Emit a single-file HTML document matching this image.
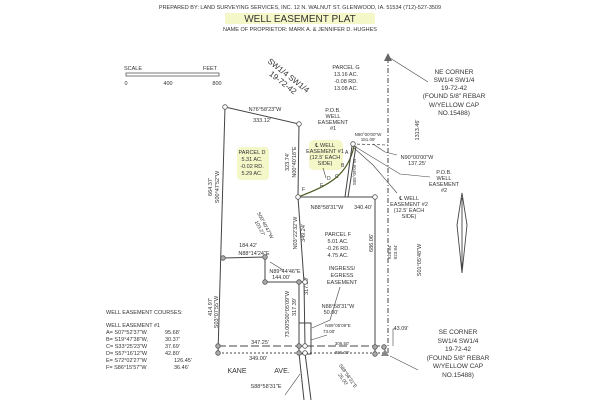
<!DOCTYPE html><html><head><style>body{margin:0;background:#fff}svg{display:block}text{font-family:"Liberation Sans",sans-serif;fill:#333}</style></head><body>
<svg width="600" height="400" viewBox="0 0 600 400" xmlns="http://www.w3.org/2000/svg">
<rect x="225" y="13" width="150" height="11" fill="#f4f7c8"/>
<rect x="237" y="147" width="32" height="33" fill="#f4f7c8" rx="4"/>
<rect x="309" y="140" width="34" height="30" fill="#f4f7c8" rx="5"/>
<g font-size="5.5" text-anchor="middle">
<text x="300" y="9">PREPARED BY: LAND SURVEYING SERVICES, INC. 12 N. WALNUT ST. GLENWOOD, IA. 51534 (712)-527-3509</text>
<text x="300" y="22" font-size="10" fill="#222">WELL  EASEMENT  PLAT</text>
<text x="300" y="31">NAME OF PROPRIETOR: MARK A. &amp; JENNIFER D. HUGHES</text>
</g>
<g font-size="5.5" text-anchor="middle">
<text x="133" y="70">SCALE</text><text x="210" y="70">FEET</text>
<text x="126" y="85">0</text><text x="168" y="85">400</text><text x="217" y="85">800</text>
<text x="346" y="69">PARCEL G</text><text x="346" y="76">13.16 AC.</text><text x="346" y="83">-0.08 RD.</text><text x="346" y="90">13.08 AC.</text>
<text x="454" y="74" font-size="6.5">NE CORNER</text><text x="454" y="82" font-size="6.5">SW1/4 SW1/4</text><text x="454" y="90" font-size="6.5">19-72-42</text><text x="454" y="98" font-size="6.5">(FOUND 5/8" REBAR</text><text x="454" y="107" font-size="6.5">W/YELLOW CAP</text><text x="454" y="115" font-size="6.5">NO.15488)</text>
<text x="458" y="334" font-size="6.5">SE CORNER</text><text x="458" y="343" font-size="6.5">SW1/4 SW1/4</text><text x="458" y="351" font-size="6.5">19-72-42</text><text x="458" y="360" font-size="6.5">(FOUND 5/8" REBAR</text><text x="458" y="368" font-size="6.5">W/YELLOW CAP</text><text x="458" y="377" font-size="6.5">NO.15488)</text>
<text x="252" y="154">PARCEL D</text><text x="252" y="161">5.31 AC.</text><text x="252" y="168">-0.02 RD.</text><text x="252" y="175">5.29 AC.</text>
<text x="325" y="147">℄ WELL</text><text x="325" y="153">EASEMENT #1</text><text x="325" y="159">(12.5' EACH</text><text x="325" y="165">SIDE)</text>
<text x="265" y="111">N76°58'23"W</text><text x="262" y="122">333.12'</text>
<text x="333" y="112">P.O.B.</text><text x="333" y="118">WELL</text><text x="333" y="124">EASEMENT</text><text x="333" y="130">#1</text>
<text x="368" y="136" font-size="4.5">N90°00'00"W</text><text x="368" y="141" font-size="4.5">151.09'</text>
<text x="417" y="159">N90°00'00"W</text><text x="417" y="165">137.25'</text>
<text x="444" y="174">P.O.B.</text><text x="444" y="180">WELL</text><text x="444" y="186">EASEMENT</text><text x="444" y="192">#2</text>
<text x="409" y="200">℄ WELL</text><text x="409" y="206">EASEMENT #2</text><text x="409" y="212">(12.5' EACH</text><text x="409" y="218">SIDE)</text>
<text x="327" y="209">N88°58'31"W</text><text x="363" y="209">340.40'</text>
<text x="338" y="236">PARCEL F</text><text x="338" y="243">5.01 AC.</text><text x="338" y="250">-0.26 RD.</text><text x="338" y="257">4.75 AC.</text>
<text x="342" y="270">INGRESS/</text><text x="342" y="277">EGRESS</text><text x="342" y="284">EASEMENT</text>
<text x="248" y="247">184.42'</text><text x="254" y="255">N88°14'24"E</text>
<text x="285" y="273">N89°44'46"E</text><text x="281" y="279">144.00'</text>
<text x="338" y="308">N88°58'31"W</text><text x="331" y="314">50.00'</text>
<text x="338" y="327" font-size="4.5">N89°05'09"E</text><text x="329" y="333" font-size="4.5">73.00'</text>
<text x="260" y="344">347.25'</text><text x="258" y="360">349.00'</text><text x="342" y="345" font-size="4.5">306.50'</text><text x="342" y="354" font-size="4.5">306.00'</text><text x="401" y="330">43.09'</text>
<text x="237" y="373" font-size="7">KANE</text><text x="282" y="373" font-size="7">AVE.</text>
<text x="266" y="388">S88°58'31"E</text>
</g>
<g font-size="8" text-anchor="middle" transform="rotate(38 285 80)"><text x="285" y="77">SW1/4 SW1/4</text><text x="285" y="86">19-72-42</text></g>
<g font-size="5" text-anchor="middle" transform="rotate(55 345 378)"><text x="345" y="376">S88°58'31"E</text><text x="345" y="382">25.00'</text></g>
<g font-size="5" text-anchor="middle" transform="rotate(62 262 227)"><text x="262" y="225">S00°40'47"W</text><text x="262" y="231">103.27'</text></g>
<g font-size="5.5">
<text x="106" y="314">WELL EASEMENT COURSES:</text>
<text x="106" y="327">WELL EASEMENT #1</text>
<text x="106" y="334">A=  S07°52'37"W</text><text x="165" y="334">95.68'</text>
<text x="106" y="341">B=  S19°47'38"W,</text><text x="165" y="341">30.37'</text>
<text x="106" y="348">C=  S33°25'23"W</text><text x="165" y="348">37.69'</text>
<text x="106" y="355">D=  S57°16'12"W</text><text x="165" y="355">42.80'</text>
<text x="106" y="362">E=  S72°02'27"W</text><text x="174" y="362">126.45'</text>
<text x="106" y="369">F=  S86°15'57"W</text><text x="174" y="369">36.46'</text>
<text x="345" y="154" font-size="5">A</text><text x="341" y="167" font-size="5">B</text><text x="335" y="178" font-size="5">C</text><text x="327" y="180" font-size="5">D</text><text x="320" y="187" font-size="5">E</text><text x="302" y="191" font-size="5">F</text>
</g>
<g font-size="5.5" text-anchor="middle">
<text transform="translate(212,187) rotate(-90)">664.37'</text>
<text transform="translate(219,187) rotate(-90)">S00°47'52"W</text>
<text transform="translate(212,307) rotate(-90)">414.97'</text>
<text transform="translate(218,312) rotate(-90)">S03°07'55"W</text>
<text transform="translate(289,162) rotate(-90)">323.74'</text>
<text transform="translate(296,162) rotate(-90)">N00°40'18"E</text>
<text transform="translate(356,172) rotate(-90)" font-size="4.5">S05°09'09"W</text>
<text transform="translate(297,233) rotate(-90)">N03°22'32"W</text>
<text transform="translate(305,233) rotate(-90)">349.24'</text>
<text transform="translate(289,307) rotate(-90)">S00°05'09"W</text>
<text transform="translate(296,307) rotate(-90)">317.39'</text>
<text transform="translate(308,286) rotate(-90)">317.39'</text>
<text transform="translate(289,330) rotate(-90)">73.00'</text>
<text transform="translate(373,243) rotate(-90)">686.06'</text>
<text transform="translate(419,130) rotate(-90)">1313.46'</text>
<text transform="translate(421,260) rotate(-90)">S01°05'48"W</text>
<text transform="translate(391,252) rotate(-90)" font-size="4.5">928.84'</text>
<text transform="translate(397,252) rotate(-90)" font-size="4.5">923.84'</text>
</g>
<g stroke="#444" stroke-width="1" fill="none">
<rect x="126" y="73" width="93" height="3" stroke-width="0.7"/>
<polyline points="225,107 299,124 298,197 304,282 305,346"/>
<line x1="299" y1="282" x2="299" y2="346"/>
<line x1="225" y1="107" x2="218" y2="353"/>
<polyline points="223,258 265,257 265,282 305,282"/>
<line x1="298" y1="197" x2="375" y2="197"/>
<line x1="375" y1="197" x2="375" y2="353"/>
<line x1="299" y1="353" x2="304" y2="400"/>
<line x1="305" y1="353" x2="311" y2="400"/>
<rect x="299" y="323" width="12" height="31"/>
<path d="M354,146 C348,175 330,185 298,197" stroke="#4a5a20" stroke-width="1.2"/>
<line x1="352" y1="146" x2="345" y2="197"/><line x1="356" y1="146" x2="348" y2="197"/>
<line x1="352" y1="144" x2="388" y2="145" stroke-dasharray="3,2" stroke-width="0.7"/>
<polyline points="354,146 400,174 430,177" stroke-width="0.6"/>
<polyline points="354,148 373,165 397,193" stroke-width="0.6"/>
<polyline points="373,144 385,152 397,155" stroke-width="0.6"/>
<polyline points="323,168 326,178" stroke-width="0.6"/>
<line x1="388" y1="58" x2="388" y2="355" stroke-dasharray="5,2,1,2"/>
<line x1="218" y1="346" x2="385" y2="346" stroke-dasharray="8,3"/>
<line x1="218" y1="353" x2="385" y2="353" stroke-dasharray="2,2"/>
<line x1="390" y1="58" x2="428" y2="82" stroke-width="0.6"/>
<line x1="390" y1="356" x2="418" y2="370" stroke-width="0.6"/>
<polyline points="270,262 283,270" stroke-width="0.6"/>
<polyline points="340,287 330,320 312,328" stroke-width="0.6"/>
<polyline points="327,335 311,340" stroke-width="0.6"/>
<polyline points="393,346 393,329 396,329" stroke-width="0.6"/>
<polyline points="285,395 300,374" stroke-width="0.6"/>
<path d="M462,193 L457,225 L462,273 L467,225 Z M462,198 L462,273" stroke-width="0.9"/>
</g>
<polygon points="388,53 384,61 392,61" fill="#666"/>
<polygon points="385,349 381,356 389,356" fill="#888"/>
<g fill="#fff" stroke="#555" stroke-width="0.8">
<circle cx="225" cy="107" r="2.3"/><circle cx="299" cy="124" r="2.3"/><circle cx="298" cy="197" r="2.3"/><circle cx="353" cy="144" r="2.3"/><circle cx="375" cy="197" r="2.3"/>
</g>
<g fill="#aaa" stroke="#555" stroke-width="0.8">
<circle cx="223" cy="258" r="2.3"/><circle cx="265" cy="257" r="2.3"/><circle cx="265" cy="282" r="2.3"/><circle cx="299" cy="282" r="2.3"/><circle cx="305" cy="282" r="2.3" fill="#fff"/>
<circle cx="218" cy="346" r="2.3"/><circle cx="218" cy="353" r="2.3"/><circle cx="299" cy="346" r="2.3"/><circle cx="305" cy="346" r="2.3" fill="#fff"/><circle cx="299" cy="353" r="2.3"/><circle cx="305" cy="353" r="2.3" fill="#fff"/><circle cx="375" cy="347" r="2.3"/><circle cx="375" cy="354" r="2.3"/><circle cx="384" cy="347" r="2.3"/>
</g>
</svg></body></html>
